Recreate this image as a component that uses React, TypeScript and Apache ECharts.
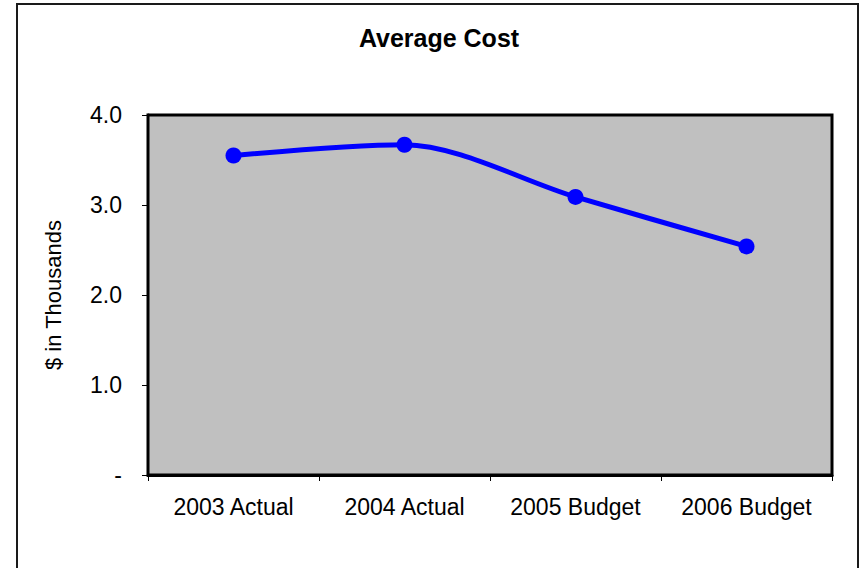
import React, { useEffect, useRef } from "react";
import * as echarts from "echarts";

const categories = ["2003 Actual", "2004 Actual", "2005 Budget", "2006 Budget"];
const averageCost = [3.55, 3.67, 3.09, 2.54];
const yTicks = { min: 0, max: 4, interval: 1 };

const FONT = "'Liberation Sans', Arial, sans-serif";

export default function App() {
  const ref = useRef<HTMLDivElement>(null);

  useEffect(() => {
    if (!ref.current) return;
    const chart = echarts.init(ref.current, null, { renderer: "svg" });
    chart.setOption({
      animation: false,
      backgroundColor: "#ffffff",
      textStyle: { fontFamily: FONT },
      graphic: [
        {
          type: "rect",
          shape: { x: 17, y: 4, width: 841, height: 580 },
          style: { fill: "none", stroke: "#1a1a1a", lineWidth: 2 },
          z: 0,
        },
        {
          type: "text",
          x: 439,
          y: 25,
          style: {
            text: "Average Cost",
            font: `bold 25px ${FONT}`,
            fill: "#000",
            textAlign: "center",
            textVerticalAlign: "top",
          },
        },
      ],
      grid: {
        left: 148,
        top: 115,
        width: 684,
        height: 360,
        show: true,
        backgroundColor: "#C0C0C0",
        borderColor: "#000",
        borderWidth: 3,
        z: 1,
      },
      xAxis: {
        type: "category",
        data: categories,
        boundaryGap: true,
        axisLine: { show: true, lineStyle: { color: "#000", width: 3 } },
        axisTick: { show: true, length: 6, lineStyle: { color: "#000", width: 1 } },
        axisLabel: { color: "#000", fontSize: 23, fontFamily: FONT, margin: 20 },
        splitLine: { show: false },
      },
      yAxis: {
        type: "value",
        min: yTicks.min,
        max: yTicks.max,
        interval: yTicks.interval,
        name: "$ in Thousands",
        nameLocation: "middle",
        nameRotate: 90,
        nameGap: 84,
        nameTextStyle: { color: "#000", fontSize: 22, fontFamily: FONT },
        axisLine: { show: true, lineStyle: { color: "#000", width: 3 } },
        axisTick: { show: true, length: 6, lineStyle: { color: "#000", width: 1 } },
        axisLabel: {
          color: "#000",
          fontSize: 23,
          fontFamily: FONT,
          margin: 26,
          formatter: (v: number) => (v === 0 ? "-" : v.toFixed(1)),
        },
        splitLine: { show: true, lineStyle: { color: "#333", width: 1 } },
      },
      series: [
        {
          type: "line",
          data: averageCost,
          smooth: 0.3,
          symbol: "circle",
          symbolSize: 16,
          lineStyle: { color: "#0000FF", width: 5 },
          itemStyle: { color: "#0000FF" },
          z: 5,
        },
      ],
    });
    return () => chart.dispose();
  }, []);

  return (
    <div
      ref={ref}
      style={{ position: "fixed", left: 0, top: 0, width: 867, height: 568 }}
    />
  );
}
